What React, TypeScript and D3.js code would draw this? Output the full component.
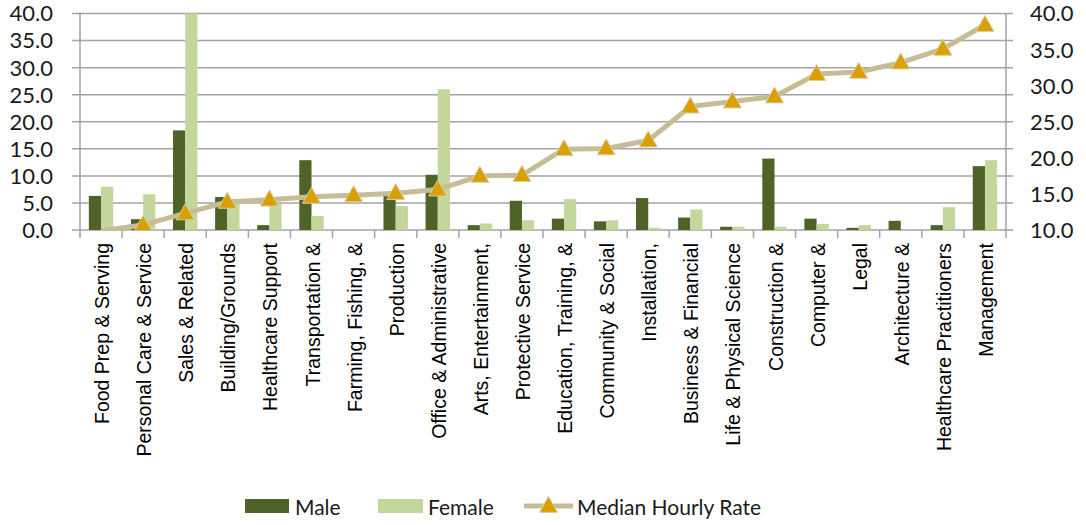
import React from "react";
import * as d3 from "d3";

const categories = [
  "Food Prep & Serving",
  "Personal Care & Service",
  "Sales & Related",
  "Building/Grounds",
  "Healthcare Support",
  "Transportation &",
  "Farming, Fishing, &",
  "Production",
  "Office & Administrative",
  "Arts, Entertainment,",
  "Protective Service",
  "Education, Training, &",
  "Community & Social",
  "Installation,",
  "Business & Financial",
  "Life & Physical Science",
  "Construction &",
  "Computer &",
  "Legal",
  "Architecture &",
  "Healthcare Practitioners",
  "Management",
];

const male = [6.3, 2.0, 18.4, 6.1, 0.9, 12.9, 0, 6.5, 10.2, 0.9, 5.4, 2.1, 1.6, 5.9, 2.3, 0.6, 13.2, 2.1, 0.4, 1.7, 0.9, 11.8];
const female = [8.0, 6.6, 40.0, 5.2, 4.8, 2.6, 0, 4.4, 26.0, 1.2, 1.8, 5.7, 1.8, 0.4, 3.8, 0.6, 0.6, 1.1, 0.9, 0, 4.2, 12.9];
const medianRate = [9.9, 10.7, 12.3, 13.9, 14.2, 14.6, 14.8, 15.1, 15.6, 17.5, 17.6, 21.2, 21.3, 22.4, 27.1, 27.8, 28.5, 31.6, 31.9, 33.2, 35.1, 38.4];

const leftTicks = [0, 5, 10, 15, 20, 25, 30, 35, 40];
const rightTicks = [10, 15, 20, 25, 30, 35, 40];

const W = 1086;
const H = 525;
const left = 80;
const right = 1006;
const top = 13.5;
const bottom = 230;

const MALE = "#4f6228";
const FEMALE = "#c3d69b";
const LINE = "#c6bd97";
const MARK = "#d9a000";
const GRID = "#a3a3a3";
const NUMFONT = "Lato, 'Open Sans', sans-serif";

function tri(cx: number, cy: number, w = 18, h = 16) {
  return `M${cx},${cy - h * 0.6} L${cx + w / 2},${cy + h * 0.4} L${cx - w / 2},${cy + h * 0.4} Z`;
}

export default function App() {
  const x = d3.scaleBand<string>().domain(categories).range([left, right]).paddingInner(0).paddingOuter(0);
  const yL = d3.scaleLinear().domain([0, 40]).range([bottom, top]);
  const yR = d3.scaleLinear().domain([10, 40]).range([bottom, top]);
  const bw = 12.2;
  const line = d3
    .line<number>()
    .x((_, i) => (x(categories[i]) as number) + x.bandwidth() / 2)
    .y((d) => yR(d));

  return (
    <svg width={W} height={H} style={{ position: "absolute", left: 0, top: 0, background: "#fff" }}>
      <defs>
        <clipPath id="plot">
          <rect x={left} y={top - 12} width={right - left} height={bottom - top + 12} />
        </clipPath>
      </defs>
      {leftTicks.map((t) => (
        <line key={"g" + t} x1={left - 8} x2={right + 7} y1={yL(t)} y2={yL(t)} stroke={GRID} strokeWidth={1.5} />
      ))}
      <line x1={left} x2={left} y1={top} y2={bottom} stroke={GRID} strokeWidth={1.5} />
      <line x1={right} x2={right} y1={top} y2={bottom} stroke={GRID} strokeWidth={1.5} />
      {d3.range(categories.length + 1).map((i) => {
        const xx = left + i * x.bandwidth();
        return <line key={"t" + i} x1={xx} x2={xx} y1={bottom} y2={bottom + 8} stroke={GRID} strokeWidth={1.5} />;
      })}
      {categories.map((c, i) => {
        const cx = (x(c) as number) + x.bandwidth() / 2;
        return (
          <g key={"b" + i}>
            {male[i] > 0 && <rect x={cx - bw} y={yL(male[i])} width={bw} height={bottom - yL(male[i])} fill={MALE} />}
            {female[i] > 0 && <rect x={cx} y={yL(female[i])} width={bw} height={bottom - yL(female[i])} fill={FEMALE} />}
          </g>
        );
      })}
      <g clipPath="url(#plot)">
        <path d={line(medianRate) || ""} fill="none" stroke={LINE} strokeWidth={5} strokeLinejoin="round" />
        {medianRate.map((v, i) =>
          v >= 10 ? (
            <path
              key={"m" + i}
              d={tri((x(categories[i]) as number) + x.bandwidth() / 2, yR(v))}
              fill={MARK}
              stroke="#d8cfa5"
              strokeWidth={1}
            />
          ) : null
        )}
      </g>
      {leftTicks.map((t) => (
        <text key={"l" + t} x={53} y={yL(t)} dy="0.36em" textAnchor="end" fontFamily={NUMFONT} fontSize={22} fill="#1a1a1a">
          {t.toFixed(1)}
        </text>
      ))}
      {rightTicks.map((t) => (
        <text key={"r" + t} x={1030} y={yR(t)} dy="0.36em" textAnchor="start" fontFamily={NUMFONT} fontSize={22} fill="#1a1a1a">
          {t.toFixed(1)}
        </text>
      ))}
      {categories.map((c, i) => {
        const cx = (x(c) as number) + x.bandwidth() / 2 + 1;
        return (
          <text
            key={"c" + i}
            transform={`translate(${cx},243) rotate(-90)`}
            textAnchor="end"
            dy="0.36em"
            fontFamily="'Liberation Sans', Arial, sans-serif"
            fontSize={19.5}
            fill="#000"
          >
            {c}
          </text>
        );
      })}
      <rect x={245} y={499} width={44} height={14} fill={MALE} />
      <text x={295} y={507} dy="0.36em" fontFamily={NUMFONT} fontSize={21} fill="#1a1a1a">Male</text>
      <rect x={378} y={499} width={45} height={14} fill={FEMALE} />
      <text x={428} y={507} dy="0.36em" fontFamily={NUMFONT} fontSize={21} fill="#1a1a1a">Female</text>
      <line x1={524} x2={573} y1={506} y2={506} stroke={LINE} strokeWidth={5} />
      <path d={tri(548.5, 506)} fill={MARK} stroke="#d8cfa5" strokeWidth={1} />
      <text x={577} y={507} dy="0.36em" fontFamily={NUMFONT} fontSize={21} fill="#1a1a1a">Median Hourly Rate</text>
    </svg>
  );
}
